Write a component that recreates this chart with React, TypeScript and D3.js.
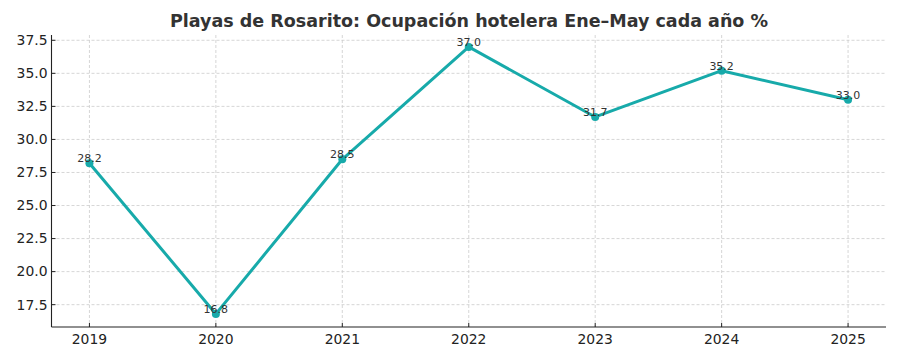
import React from "react";
import * as d3 from "d3";

const years = ["2019", "2020", "2021", "2022", "2023", "2024", "2025"];
const occupancy = [28.2, 16.8, 28.5, 37.0, 31.7, 35.2, 33.0];
const yTicks = [17.5, 20.0, 22.5, 25.0, 27.5, 30.0, 32.5, 35.0, 37.5];
const title = "Playas de Rosarito: Ocupación hotelera Ene–May cada año %";

export default function App() {
  const W = 900, H = 360;
  const left = 51.5, right = 886, top = 35, bottom = 327;
  const xIdx = years.map((_, i) => i);
  const x = d3.scaleLinear().domain([-0.3, years.length - 1 + 0.3]).range([left, right]);
  const y = d3.scaleLinear().domain([15.81, 37.9]).range([bottom, top]);
  const line = d3.line<number>().x((_, i) => x(i)).y((d) => y(d));
  const color = "#17aaaa";
  const font = "DejaVu Sans, sans-serif";
  return (
    <svg width={W} height={H} style={{ position: "absolute", left: 0, top: 0, background: "#fff" }}>
      <text x={469} y={27} textAnchor="middle" fontFamily={font} fontWeight="bold" fontSize={17.5} fill="#333">
        {title}
      </text>
      {yTicks.map((t) => (
        <line key={"gy" + t} x1={left} x2={right} y1={y(t)} y2={y(t)} stroke="#cccccc" strokeWidth={0.8} strokeDasharray="3,2" />
      ))}
      {xIdx.map((i) => (
        <line key={"gx" + i} x1={x(i)} x2={x(i)} y1={top} y2={bottom} stroke="#cccccc" strokeWidth={0.8} strokeDasharray="3,2" />
      ))}
      <line x1={left} x2={left} y1={top} y2={bottom} stroke="#222" strokeWidth={1.1} />
      <line x1={left} x2={right} y1={bottom} y2={bottom} stroke="#222" strokeWidth={1.1} />
      {yTicks.map((t) => (
        <g key={"ty" + t}>
          <line x1={left} x2={left + 4} y1={y(t)} y2={y(t)} stroke="#222" strokeWidth={1} />
          <text x={left - 4} y={y(t)} dy="0.35em" textAnchor="end" fontFamily={font} fontSize={13.9} fill="#222">
            {t.toFixed(1)}
          </text>
        </g>
      ))}
      {xIdx.map((i) => (
        <g key={"tx" + i}>
          <line x1={x(i)} x2={x(i)} y1={bottom} y2={bottom - 4} stroke="#222" strokeWidth={1} />
          <text x={x(i)} y={bottom + 17} textAnchor="middle" fontFamily={font} fontSize={13.9} fill="#222">
            {years[i]}
          </text>
        </g>
      ))}
      <path d={line(occupancy)!} fill="none" stroke={color} strokeWidth={3} strokeLinejoin="round" strokeLinecap="round" />
      {occupancy.map((v, i) => (
        <circle key={"p" + i} cx={x(i)} cy={y(v)} r={4} fill={color} />
      ))}
      {occupancy.map((v, i) => (
        <text key={"l" + i} x={x(i)} y={y(v) - 1} textAnchor="middle" fontFamily={font} fontSize={11} fill="#333">
          {v.toFixed(1)}
        </text>
      ))}
    </svg>
  );
}
